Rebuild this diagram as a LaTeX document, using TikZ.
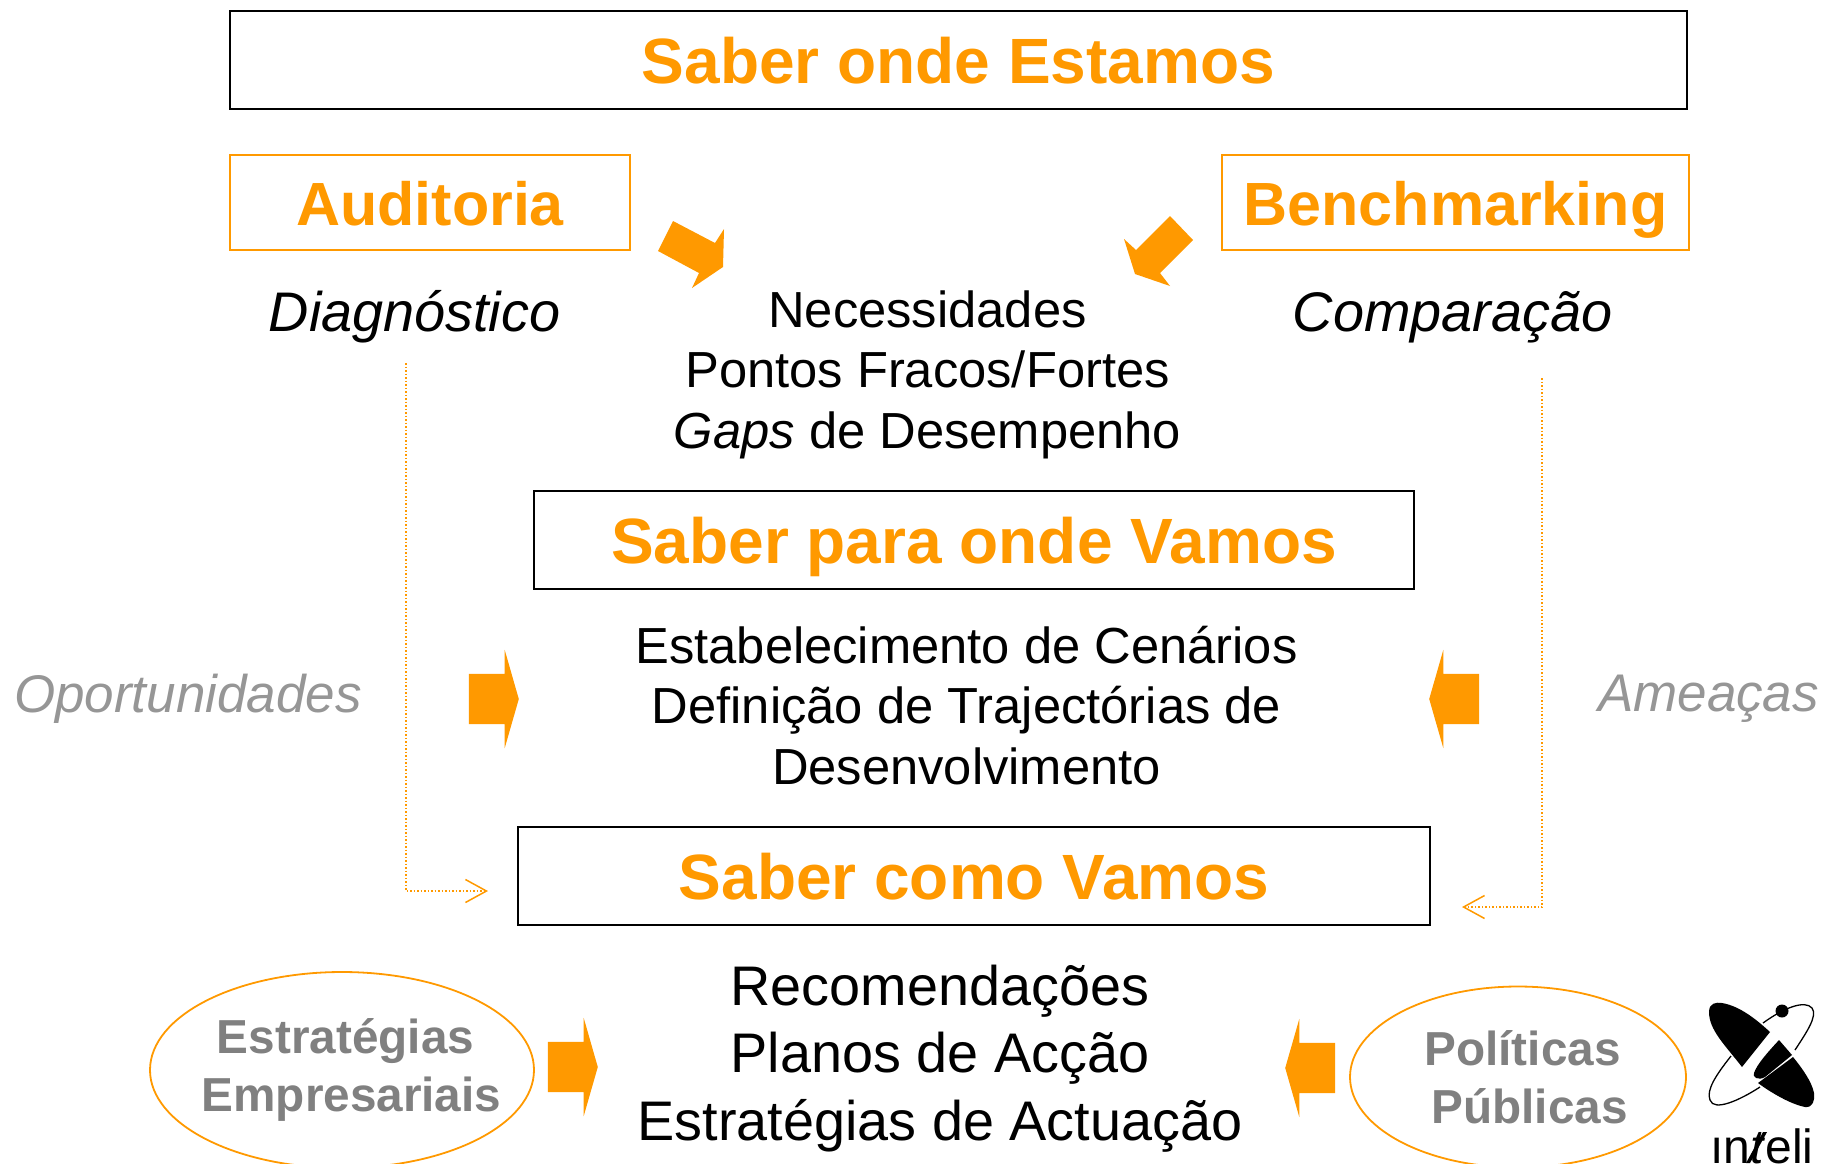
\documentclass[tikz,border=0pt]{standalone}
\usepackage{fontspec}
\setmainfont{Liberation Sans}
\usetikzlibrary{shapes.geometric,shapes.arrows,arrows.meta}
\definecolor{inteli}{RGB}{255,153,0}
\definecolor{greyone}{RGB}{150,150,150}
\definecolor{greytwo}{RGB}{128,128,128}
\newcommand{\fsize}[1]{\fontsize{#1}{#1}\selectfont}

\begin{document}
\begin{tikzpicture}[x=1pt,y=-1pt,
    title box/.style={draw=black, line width=1.4pt, text=inteli, font=\fsize{64}\bfseries, minimum height=98pt, inner sep=0pt, text height=47pt, text depth=0pt},
    side box/.style={draw=inteli, line width=1.2pt, text=inteli, font=\fsize{61}\bfseries, minimum height=95pt, inner sep=0pt, text height=46pt, text depth=0pt},
    side text/.style={font=\fsize{55.8}\itshape, inner sep=0pt},
    grey text/.style={font=\fsize{53}\itshape, text=greyone, inner sep=0pt},
    body text/.style={font=\fontsize{50.7}{60.5}\selectfont, align=center, inner sep=0pt},
    big text/.style={font=\fontsize{55.8}{67.5}\selectfont, align=center, inner sep=0pt},
    oval/.style={ellipse, draw=inteli, line width=1.8pt, text=greytwo, font=\fontsize{47.7}{58}\selectfont\bfseries, align=center, inner xsep=-40pt, inner ysep=0pt},
    block arrow/.style={single arrow, fill=inteli, inner xsep=0pt, inner ysep=25pt, minimum height=50pt, minimum width=98pt,
      single arrow head extend=24pt, single arrow tip angle=148, anchor=tip},
    block path/.style={fill=inteli},
    dotted link/.style={draw=inteli, line width=1.5pt, dash pattern=on 1.5pt off 2pt, -{Straight Barb[length=21pt,width=23pt,line width=1.5pt]}}
  ]
  \useasboundingbox (0,0) rectangle (1825,1163);

  \node [title box, minimum width=1457pt] (onde) at (958.5,60) {Saber onde Estamos};
  \node [side box, minimum width=400pt] (auditoria) at (430,202.5) {Auditoria};
  \node [side box, minimum width=467pt] (bench) at (1455.5,202.5) {Benchmarking};
  \node [side text] (diag) at (414.5,317) {Diagnóstico};
  \node [side text] (comp) at (1452.5,317) {Comparação};
  \node [body text] (nec) at (927.5,374.5) {Necessidades\\Pontos Fracos/Fortes\\\textit{Gaps} de Desempenho};

  \node [title box, minimum width=880pt] (para) at (974,540) {Saber para onde Vamos};
  \node [body text] (cenarios) at (966.5,705.5) {Estabelecimento de Cenários\\Definição de Trajectórias de\\Desenvolvimento};
  \node [grey text] (oport) at (188,698.5) {Oportunidades};
  \node [grey text] (ameacas) at (1708.5,698.5) {Ameaças};

  \node [title box, minimum width=912pt] (como) at (974,876) {Saber como Vamos};
  \node [big text] (recom) at (940,1058.5) {Recomendações\\Planos de Acção\\Estratégias de Actuação};
  \node [oval, minimum width=384pt, minimum height=196pt] (emp) at (342,1070) {\hspace*{7pt}Estratégias\\\hspace*{19pt}Empresariais};
  \node [oval, minimum width=336pt, minimum height=181pt] (pub) at (1518,1077) {\hspace*{9pt}Políticas\\\hspace*{23pt}Públicas};

  % block arrows
  \node [block arrow] (a1) at (519,699) {};
  \node [block arrow, shape border rotate=180] (a2) at (1429,699) {};
  \node [block arrow] (a3) at (598,1067) {};
  \node [block arrow, shape border rotate=180] (a4) at (1285,1068) {};
  \path [block path] (673,221) -- (715,243) -- (724,229) -- (723,267) -- (692,288) -- (699,273) -- (658,251) -- cycle;
  \path [block path] (1170,216) -- (1193,240) -- (1160,273) -- (1170,286) -- (1135,274) -- (1124,239) -- (1136,250) -- cycle;

  % dotted links
  \coordinate (ls) at (406,363);
  \coordinate (le) at (488,891);
  \coordinate (rs) at (1542,378);
  \coordinate (re) at (1462,907);
  \path [dotted link] (ls) |- (le);
  \path [dotted link] (rs) |- (re);

  % logo
  \fill (1770,1032) -- (1742,1067) .. controls (1725,1045) and (1709,1030) .. (1709,1012)
    .. controls (1709,1003) and (1716,1002) .. (1722,1003) .. controls (1740,1006) and (1757,1020) .. (1770,1032) -- cycle;
  \fill (1793,1057) -- (1758,1083) .. controls (1770,1092) and (1790,1104) .. (1805,1107)
    .. controls (1813,1108) and (1815,1100) .. (1814,1093) .. controls (1812,1082) and (1802,1068) .. (1793,1057) -- cycle;
  \fill (1779,1040) -- (1792,1055) -- (1765,1077) .. controls (1758,1081) and (1752,1077) .. (1754,1073) .. controls (1757,1064) and (1768,1052) .. (1779,1040) -- cycle;
  \draw [line width=1.3pt] (1731,1056) .. controls (1716,1075) and (1706,1090) .. (1710,1100)
    .. controls (1714,1112) and (1740,1100) .. (1760,1087);
  \draw [line width=1.3pt] (1763,1023) .. controls (1785,1007) and (1805,1000) .. (1812,1008)
    .. controls (1818,1016) and (1806,1033) .. (1795,1050);
  \fill (1782,1011) circle (6.5pt);
  \node [font=\fsize{48}, inner sep=0pt, anchor=base] (logo) at (1762,1163) {ın\textit{t}eli};
  \fill (1763,1132) -- (1767,1132) -- (1750,1163) -- (1746,1163) -- cycle;
\end{tikzpicture}
\end{document}
